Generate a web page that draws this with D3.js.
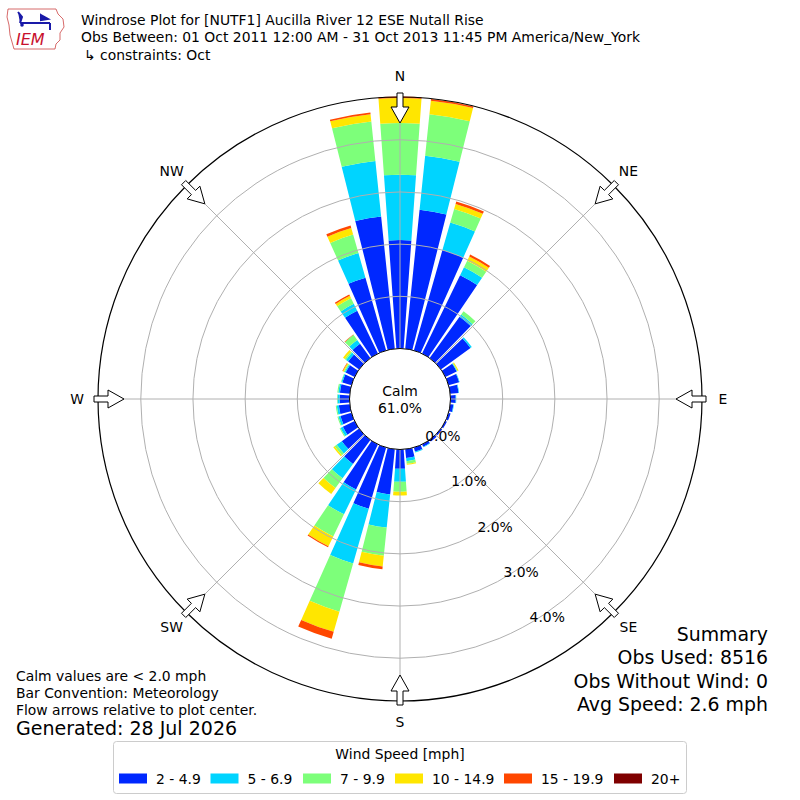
<!DOCTYPE html>
<html>
<head>
<meta charset="utf-8">
<script src="https://cdn.jsdelivr.net/npm/d3@7"></script>
<style>
  body { margin: 0; background: #fff; }
  text { font-family: 'DejaVu Sans', sans-serif; fill: #000; }
</style>
</head>
<body>
<svg id="chart" width="800" height="800"></svg>
<script>
// Wind directions (degrees, meteorological convention)
const directions = [0, 10, 20, 30, 40, 50, 60, 70, 80, 90, 100, 110, 120, 130, 140, 150, 160, 170,
  180, 190, 200, 210, 220, 230, 240, 250, 260, 270, 280, 290, 300, 310, 320, 330, 340, 350];

// Speed bins and frequency (%) per direction
const speedBins = ['2 - 4.9', '5 - 6.9', '7 - 9.9', '10 - 14.9', '15 - 19.9', '20+'];
const speed2to5 = [2.08, 2.68, 2.00, 1.67, 0.98, 0.70, 0.24, 0.21, 0.16, 0.10, 0.06, 0.04, 0.03, 0.03, 0.04, 0.05, 0.08, 0.17,
  0.37, 0.87, 1.22, 0.96, 0.57, 0.41, 0.25, 0.22, 0.21, 0.19, 0.19, 0.18, 0.19, 0.26, 0.34, 0.91, 1.45, 2.55];
const speed5to7 = [1.25, 1.04, 0.55, 0.17, 0.05, 0.03, 0.01, 0.01, 0.01, 0.01, 0.01, 0, 0, 0, 0, 0.01, 0.02, 0.06,
  0.25, 0.64, 1.09, 0.53, 0.34, 0.12, 0.05, 0.04, 0.04, 0.04, 0.03, 0.02, 0.02, 0.05, 0.09, 0.15, 0.49, 1.07];
const speed7to10 = [0.99, 0.80, 0.27, 0.14, 0.08, 0, 0.01, 0, 0, 0, 0, 0, 0, 0, 0, 0, 0, 0.05,
  0.19, 0.54, 0.96, 0.47, 0.23, 0.05, 0.02, 0.02, 0.02, 0.01, 0.02, 0.01, 0.02, 0.03, 0.12, 0.12, 0.37, 0.76];
const speed10to15 = [0.48, 0.26, 0.10, 0.09, 0, 0, 0.02, 0, 0, 0, 0, 0, 0, 0, 0, 0, 0, 0.02,
  0.07, 0.21, 0.40, 0.21, 0.14, 0.03, 0, 0, 0, 0, 0, 0, 0.02, 0.04, 0, 0.05, 0.13, 0.14];
const speed15to20 = [0.03, 0.03, 0.05, 0.04, 0, 0, 0, 0, 0, 0, 0, 0, 0, 0, 0, 0, 0, 0,
  0, 0.05, 0.14, 0.02, 0, 0, 0, 0, 0, 0, 0, 0, 0.01, 0, 0.01, 0.03, 0.05, 0.03];
const speed20plus = [0, 0, 0, 0, 0, 0, 0, 0, 0, 0, 0, 0, 0, 0, 0, 0, 0, 0,
  0, 0, 0, 0, 0, 0, 0, 0, 0, 0, 0, 0, 0, 0, 0, 0, 0, 0];
const binColors = ['#0028ff', '#00d4ff', '#7dff7a', '#ffe600', '#ff4700', '#7f0000'];

// Radial ticks and compass labels
const ringTicks = [0, 1, 2, 3, 4];
const ringLabels = ['0.0%', '1.0%', '2.0%', '3.0%', '4.0%'];
const compassNames = ['N', 'NE', 'E', 'SE', 'S', 'SW', 'W', 'NW'];
const compassAngles = [0, 45, 90, 135, 180, 225, 270, 315];

const calmPct = '61.0%';
const summaryLines = ['Summary', 'Obs Used: 8516', 'Obs Without Wind: 0', 'Avg Speed: 2.6 mph'];
const noteLines = ['Calm values are < 2.0 mph', 'Bar Convention: Meteorology', 'Flow arrows relative to plot center.'];

// Layout
const cx = 400, cy = 399;
const calmR = 50.5, outerR = 302;
const halfWidth = 4.1;

const svg = d3.select('#chart');

// Scales
const rScale = d3.scaleLinear().domain([0, 4.82]).range([calmR, outerR]);
const aScale = d3.scaleLinear().domain([0, 360]).range([0, 2 * Math.PI]);

// Stack the speed bins
const keys = ['s0', 's1', 's2', 's3', 's4', 's5'];
const series = [speed2to5, speed5to7, speed7to10, speed10to15, speed15to20, speed20plus];
const rows = directions.map((d, i) => {
  const row = { dir: d };
  keys.forEach((k, j) => { row[k] = series[j][i]; });
  return row;
});
const stacked = d3.stack().keys(keys)(rows);

const plot = svg.append('g').attr('transform', `translate(${cx},${cy})`);
const arc = d3.arc();

// Bars
plot.selectAll('g.layer')
  .data(stacked)
  .join('g')
  .attr('class', 'layer')
  .attr('fill', (d, i) => binColors[i])
  .selectAll('path')
  .data(d => d.filter(s => s[1] - s[0] > 0))
  .join('path')
  .attr('d', s => arc({
    innerRadius: rScale(s[0]),
    outerRadius: rScale(s[1]),
    startAngle: aScale(s.data.dir - halfWidth),
    endAngle: aScale(s.data.dir + halfWidth)
  }));

// Grid rings and spokes (drawn on top of bars)
plot.selectAll('circle.ring')
  .data(ringTicks.slice(1))
  .join('circle')
  .attr('class', 'ring')
  .attr('r', d => rScale(d))
  .attr('fill', 'none')
  .attr('stroke', '#b0b0b0')
  .attr('stroke-width', 1);

plot.selectAll('line.spoke')
  .data(compassAngles)
  .join('line')
  .attr('class', 'spoke')
  .attr('x1', 0).attr('y1', 0)
  .attr('x2', d => outerR * Math.sin(aScale(d)))
  .attr('y2', d => -outerR * Math.cos(aScale(d)))
  .attr('stroke', '#b0b0b0')
  .attr('stroke-width', 1);

// Calm circle
plot.append('circle')
  .attr('r', rScale(0))
  .attr('fill', '#fff')
  .attr('stroke', '#000')
  .attr('stroke-width', 1);

plot.append('text')
  .attr('x', 0).attr('y', -3)
  .attr('text-anchor', 'middle')
  .attr('font-size', 13.9)
  .text('Calm');
plot.append('text')
  .attr('x', 0).attr('y', 14)
  .attr('text-anchor', 'middle')
  .attr('font-size', 13.9)
  .text(calmPct);

// Ring labels along 150 degrees
const labelAngle = aScale(150);
plot.selectAll('text.rlabel')
  .data(ringTicks)
  .join('text')
  .attr('class', 'rlabel')
  .attr('x', d => rScale(d) * Math.sin(labelAngle))
  .attr('y', d => -rScale(d) * Math.cos(labelAngle) - 1.5)
  .attr('font-size', 13.9)
  .text((d, i) => ringLabels[i]);

// Outer circle
plot.append('circle')
  .attr('r', outerR)
  .attr('fill', 'none')
  .attr('stroke', '#000')
  .attr('stroke-width', 1.2);

// Flow arrows pointing to center
const arrowShape = [[outerR + 4, -3], [outerR - 10, -3], [outerR - 10, -9], [outerR - 26, 0],
  [outerR - 10, 9], [outerR - 10, 3], [outerR + 4, 3]];
plot.selectAll('polygon.arrow')
  .data(compassAngles)
  .join('polygon')
  .attr('class', 'arrow')
  .attr('points', d => {
    const a = aScale(d);
    return arrowShape.map(([r, t]) => [
      r * Math.sin(a) + t * Math.cos(a),
      -r * Math.cos(a) + t * Math.sin(a)
    ].join(',')).join(' ');
  })
  .attr('fill', '#fff')
  .attr('stroke', '#000')
  .attr('stroke-width', 1);

// Compass labels
plot.selectAll('text.compass')
  .data(compassAngles)
  .join('text')
  .attr('class', 'compass')
  .attr('x', d => 323 * Math.sin(aScale(d)))
  .attr('y', d => -323 * Math.cos(aScale(d)))
  .attr('text-anchor', 'middle')
  .attr('dominant-baseline', 'central')
  .attr('font-size', 13.9)
  .text((d, i) => compassNames[i]);

// Header
const logo = svg.append('g');
logo.append('path')
  .attr('d', 'M8,9 L56,9 L58,14 L63,19 L64,27 L60,33 L60,40 L56,44 L55,49 L14,49 L12,42 L10,35 L9,25 L7,17 Z')
  .attr('fill', 'none')
  .attr('stroke', '#c44')
  .attr('stroke-width', 0.8);
logo.append('path')
  .attr('d', 'M20,23 L50,23 M18,12 L22,17 L20,23 M41,15 L48,19 L41,20 Z M50,23 L50,30')
  .attr('fill', '#1a1aa8')
  .attr('stroke', '#1a1aa8')
  .attr('stroke-width', 2);
logo.append('circle').attr('cx', 22).attr('cy', 25).attr('r', 1.8).attr('fill', '#1a1aa8');
logo.append('text')
  .attr('x', 16).attr('y', 45)
  .attr('font-family', 'DejaVu Serif, serif')
  .attr('font-style', 'italic')
  .attr('font-size', 16)
  .style('fill', '#c8102e')
  .text('IEM');

const titleLines = [
  'Windrose Plot for [NUTF1] Aucilla River 12 ESE Nutall Rise',
  'Obs Between: 01 Oct 2011 12:00 AM - 31 Oct 2013 11:45 PM America/New_York',
  '\u21B3 constraints: Oct'
];
svg.selectAll('text.title')
  .data(titleLines)
  .join('text')
  .attr('class', 'title')
  .attr('x', (d, i) => i === 2 ? 84 : 81)
  .attr('y', (d, i) => 25 + i * 17.3)
  .attr('font-size', 13.9)
  .text(d => d);

// Notes bottom left
svg.selectAll('text.note')
  .data(noteLines)
  .join('text')
  .attr('class', 'note')
  .attr('x', 16)
  .attr('y', (d, i) => 681 + i * 17)
  .attr('font-size', 13.9)
  .text(d => d);
svg.append('text')
  .attr('x', 16).attr('y', 735)
  .attr('font-size', 19.05)
  .text('Generated: 28 Jul 2026');

// Summary bottom right
svg.selectAll('text.summary')
  .data(summaryLines)
  .join('text')
  .attr('class', 'summary')
  .attr('x', 768)
  .attr('y', (d, i) => 641 + i * 23.3)
  .attr('text-anchor', 'end')
  .attr('font-size', 18.9)
  .text(d => d);

// Legend
const legend = svg.append('g');
legend.append('rect')
  .attr('x', 113.5).attr('y', 741.5)
  .attr('width', 573).attr('height', 52)
  .attr('rx', 3)
  .attr('fill', '#fff')
  .attr('stroke', '#cccccc');
legend.append('text')
  .attr('x', 400).attr('y', 759)
  .attr('text-anchor', 'middle')
  .attr('font-size', 13.9)
  .text('Wind Speed [mph]');
const legendX = [119, 210.5, 303, 395, 504, 614];
const entries = legend.selectAll('g.entry')
  .data(speedBins)
  .join('g')
  .attr('class', 'entry')
  .attr('transform', (d, i) => `translate(${legendX[i]},0)`);
entries.append('rect')
  .attr('x', 0).attr('y', 773.5)
  .attr('width', 28).attr('height', 10)
  .attr('fill', (d, i) => binColors[i]);
entries.append('text')
  .attr('x', 37).attr('y', 783.5)
  .attr('font-size', 13.9)
  .text(d => d);
</script>
</body>
</html>
